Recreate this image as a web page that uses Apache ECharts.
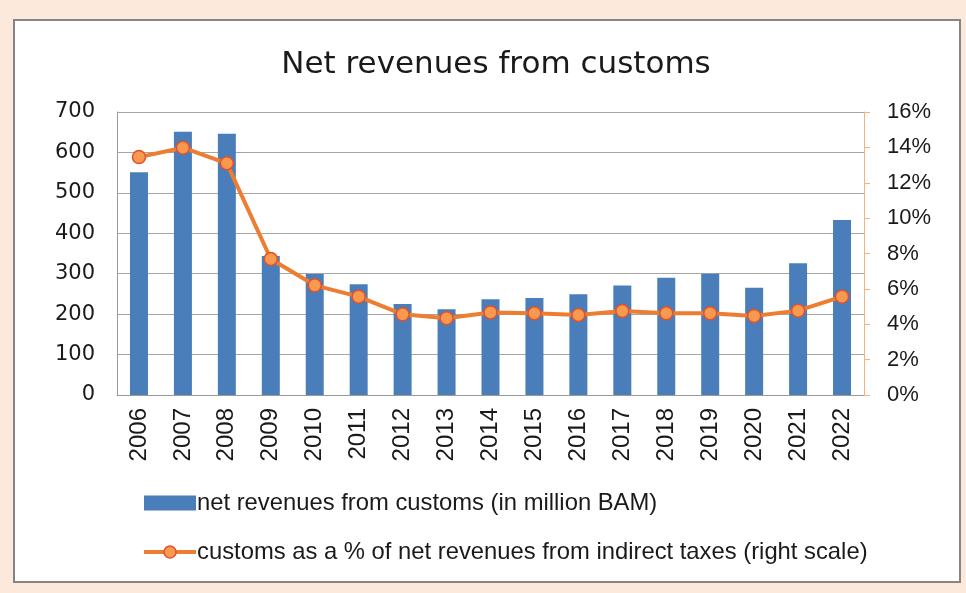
<!DOCTYPE html>
<html>
<head>
<meta charset="utf-8">
<script src="https://cdn.jsdelivr.net/npm/echarts@6/dist/echarts.min.js"></script>
<style>
  html, body { margin: 0; padding: 0; background: #fce9dc; }
  #chart { width: 966px; height: 593px; }
</style>
</head>
<body>
<div id="chart"></div>
<script>
// Years on the category axis
const years = ['2006', '2007', '2008', '2009', '2010', '2011', '2012', '2013', '2014',
               '2015', '2016', '2017', '2018', '2019', '2020', '2021', '2022'];

// Net revenues from customs, million BAM (left scale)
const customsRevenue = [551, 651, 646, 344, 299, 274, 225, 212, 237,
                        240, 249, 271, 290, 300, 265, 326, 433];

// Customs as a share of net indirect-tax revenues, % (right scale)
const customsShare = [13.45, 13.98, 13.1, 7.69, 6.2, 5.56, 4.56, 4.34, 4.67,
                      4.62, 4.52, 4.75, 4.62, 4.62, 4.47, 4.77, 5.56];

const chartTitle = 'Net revenues from customs';
const barName = 'net revenues from customs (in million BAM)';
const lineName = 'customs as a % of net revenues from indirect taxes (right scale)';

const chart = echarts.init(document.getElementById('chart'), null, { renderer: 'canvas' });

const labelFont = '"Liberation Sans", Arial, sans-serif';
const verdanaLike = '"DejaVu Sans", Verdana, sans-serif';

const barColor = '#4a7ebb';
const lineColor = '#ed7d31';

chart.setOption({
  backgroundColor: '#fce9dc',
  animation: false,
  graphic: [
    {
      type: 'rect',
      z: -10,
      shape: { x: 14, y: 20, width: 946, height: 562 },
      style: { fill: '#ffffff', stroke: '#858585', lineWidth: 2 }
    }
  ],
  title: {
    text: chartTitle,
    left: 491,
    top: 44,
    textAlign: 'center',
    textStyle: { fontFamily: verdanaLike, fontSize: 31, fontWeight: 'normal', color: '#1a1a1a' }
  },
  grid: { left: 117, right: 102, top: 112, bottom: 198, containLabel: false },
  legend: {
    orient: 'vertical',
    left: 137,
    top: 486,
    itemGap: 25,
    itemWidth: 52,
    itemHeight: 15,
    textStyle: { fontFamily: labelFont, fontSize: 23.8, color: '#1a1a1a', padding: [0, 0, 0, -4] },
    data: [
      { name: barName, icon: 'rect' },
      {
        name: lineName,
        lineStyle: { width: 4, color: lineColor },
        itemStyle: { color: '#f79a50', borderColor: '#e0522c', borderWidth: 1.5 }
      }
    ]
  },
  xAxis: {
    type: 'category',
    data: years,
    axisLine: { show: true, lineStyle: { color: '#9a9a9a', width: 1 } },
    axisTick: { show: false },
    axisLabel: {
      rotate: 90,
      margin: 13,
      fontFamily: labelFont,
      fontSize: 24,
      color: '#1a1a1a'
    }
  },
  yAxis: [
    {
      type: 'value',
      min: 0,
      max: 700,
      interval: 100,
      axisLine: { show: true, lineStyle: { color: '#9a9a9a', width: 1 } },
      axisTick: { show: false },
      axisLabel: { fontFamily: verdanaLike, fontSize: 21, color: '#1a1a1a', margin: 22 },
      splitLine: { show: true, lineStyle: { color: '#a6a6a6', width: 1.2 } }
    },
    {
      type: 'value',
      min: 0,
      max: 16,
      interval: 2,
      position: 'right',
      axisLine: { show: true, lineStyle: { color: '#f4b183', width: 1 } },
      axisTick: { show: true, inside: false, length: 6, lineStyle: { color: '#f4b183' } },
      axisLabel: {
        formatter: '{value}%',
        fontFamily: labelFont,
        fontSize: 22,
        color: '#1a1a1a',
        margin: 23
      },
      splitLine: { show: false }
    }
  ],
  series: [
    {
      name: barName,
      type: 'bar',
      yAxisIndex: 0,
      data: customsRevenue,
      barWidth: 18,
      itemStyle: { color: barColor }
    },
    {
      name: lineName,
      type: 'line',
      yAxisIndex: 1,
      data: customsShare,
      symbol: 'circle',
      symbolSize: 13,
      lineStyle: { color: lineColor, width: 4 },
      itemStyle: { color: '#f79a50', borderColor: '#e0522c', borderWidth: 1.5 }
    }
  ]
});
</script>
</body>
</html>
